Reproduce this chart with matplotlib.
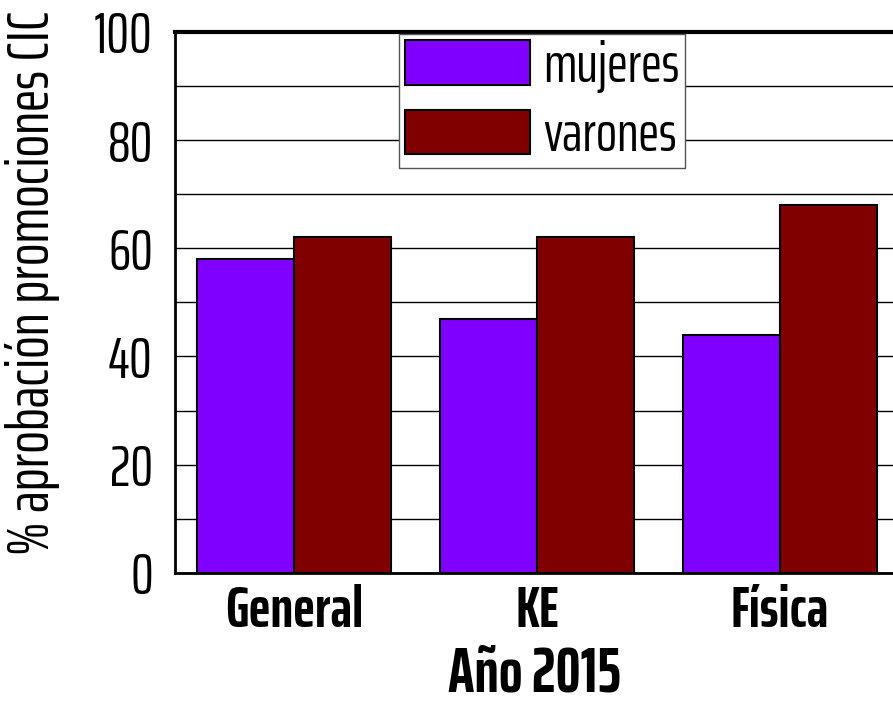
import matplotlib.pyplot as plt
import numpy as np

categorias = ['General', 'KE', 'Física']
mujeres = [58, 47, 44]
varones = [62, 62, 68]

plt.rcParams['font.family'] = ['Saira ExtraCondensed', 'DejaVu Sans']

x = np.arange(len(categorias))
width = 0.4

fig = plt.figure(figsize=(8.93, 7.09), dpi=100)
ax = fig.add_axes([0.196, 0.192, 0.804, 0.763])

ax.bar(x - width/2, mujeres, width, color='#8000ff', edgecolor='black',
       linewidth=1.5, label='mujeres', zorder=3)
ax.bar(x + width/2, varones, width, color='#800000', edgecolor='black',
       linewidth=1.5, label='varones', zorder=3)

ax.set_xlim(-0.49, 2.465)
ax.set_ylim(0, 100)
ax.set_yticks(np.arange(0, 101, 20))
ax.set_yticks(np.arange(0, 101, 10), minor=True)
ax.grid(axis='y', which='both', color='black', linewidth=1, zorder=0)
ax.tick_params(axis='both', which='both', length=0)
ax.tick_params(axis='y', labelsize=41, pad=16)
ax.set_xticks(x)
ax.set_xticklabels(categorias, fontsize=42, fontweight='bold')
ax.tick_params(axis='x', pad=8)

ax.spines['right'].set_visible(False)
ax.spines['top'].set_linewidth(3)
ax.spines['left'].set_linewidth(2)
ax.spines['bottom'].set_linewidth(2)

ax.set_ylabel('% aprobación promociones CIC', fontsize=43)
ax.yaxis.set_label_coords(-0.16, 0.536)
ax.set_xlabel('Año 2015', fontsize=45, fontweight='bold', labelpad=5)

leg = ax.legend(loc='upper left', bbox_to_anchor=(0.312, 0.996), fontsize=40,
                handlelength=2.25, handleheight=0.86, handletextpad=0.24,
                borderpad=0.1, labelspacing=0.3, borderaxespad=0,
                fancybox=False, framealpha=1, edgecolor='#555555')
leg.get_frame().set_linewidth(1)

plt.savefig('out.png', dpi=100)
